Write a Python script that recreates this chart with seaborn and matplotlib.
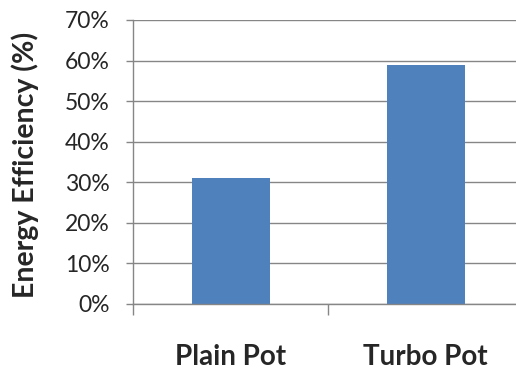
import matplotlib
matplotlib.use("Agg")
import matplotlib.pyplot as plt
import seaborn as sns
from matplotlib.ticker import FixedLocator, PercentFormatter

categories = ["Plain Pot", "Turbo Pot"]
efficiency = [31, 59]
y_ticks = [0, 10, 20, 30, 40, 50, 60, 70]
y_label = "Energy Efficiency (%)"

sns.set_style("white")
plt.rcParams["font.family"] = ["Lato", "DejaVu Sans"]

W, H = 516, 369
fig = plt.figure(figsize=(W / 100, H / 100), dpi=100)
ax = fig.add_axes([133 / W, 65 / H, 390 / W, 284 / H])

sns.barplot(x=categories, y=efficiency, color="#4F81BD", saturation=1,
            width=0.4, ax=ax, edgecolor="none")

grid_c = "#868686"
ax.set_xlim(-0.5, 1.5)
ax.set_ylim(0, 70)
ax.set_yticks(y_ticks)
ax.yaxis.set_major_formatter(PercentFormatter(decimals=0))
ax.yaxis.grid(True, color=grid_c, lw=1.0)
ax.set_axisbelow(True)

for s in ["top", "right"]:
    ax.spines[s].set_visible(False)
for s in ["left", "bottom"]:
    ax.spines[s].set_color(grid_c)
    ax.spines[s].set_linewidth(1.0)

ax.tick_params(axis="y", which="major", direction="out", length=5, width=1.0,
               color=grid_c, labelsize=16.5, pad=12, left=True)
ax.tick_params(axis="x", which="major", length=0, labelsize=20, pad=29)
ax.xaxis.set_minor_locator(FixedLocator([-0.5, 0.5, 1.5]))
ax.tick_params(axis="x", which="minor", direction="out", length=8, width=1.0,
               color=grid_c, bottom=True)
for lab in ax.get_xticklabels():
    lab.set_fontweight("bold")
ax.set_xlabel("")
ax.set_ylabel("")

fig.text(25 / W, 1 - 165 / H, y_label, rotation=90, ha="center", va="center",
         fontsize=20.5, fontweight="bold")

fig.savefig("out.png", dpi=100)
